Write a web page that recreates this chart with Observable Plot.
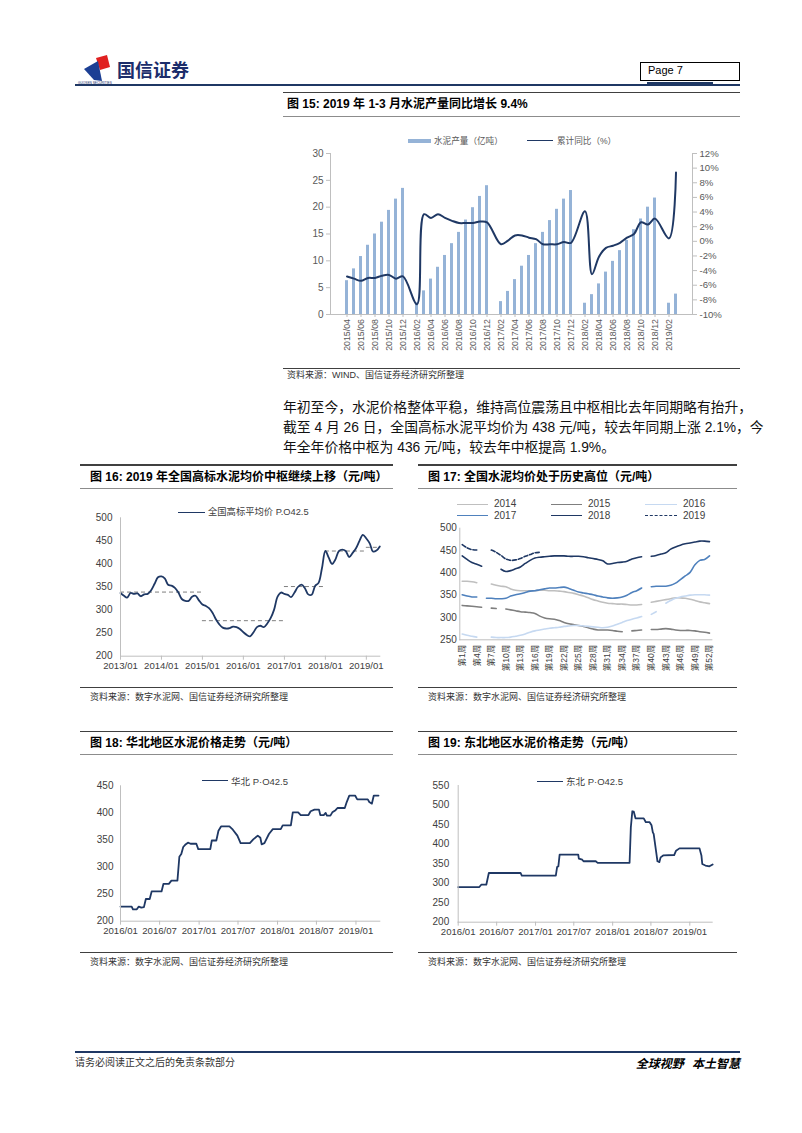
<!DOCTYPE html>
<html><head><meta charset="utf-8">
<script src="https://cdn.jsdelivr.net/npm/d3@7"></script>
<script src="https://cdn.jsdelivr.net/npm/@observablehq/plot@0.6"></script>
<style>
body{margin:0;background:#fff;}
#page{position:relative;width:802px;height:1133px;overflow:hidden;background:#fff;font-family:"Liberation Sans","Noto Sans CJK SC",sans-serif;}
</style></head>
<body><div id="page"></div>
<script>
// ---------------- DATA ----------------
// Figure 15: monthly cement output (cumulative, 亿吨) and cumulative YoY (%)
const months15 = ["2015/04","2015/05","2015/06","2015/07","2015/08","2015/09","2015/10","2015/11","2015/12",
 "2016/01","2016/02","2016/03","2016/04","2016/05","2016/06","2016/07","2016/08","2016/09","2016/10","2016/11","2016/12",
 "2017/01","2017/02","2017/03","2017/04","2017/05","2017/06","2017/07","2017/08","2017/09","2017/10","2017/11","2017/12",
 "2018/01","2018/02","2018/03","2018/04","2018/05","2018/06","2018/07","2018/08","2018/09","2018/10","2018/11","2018/12",
 "2019/01","2019/02","2019/03"];
const output15 = [6.3,8.5,10.8,12.9,15.0,17.2,19.4,21.5,23.5,
 null,2.2,4.4,6.6,8.8,11.0,13.2,15.3,17.6,19.9,22.0,24.0,
 null,2.4,4.3,6.5,9.0,11.0,13.2,15.3,17.5,19.6,21.5,23.1,
 null,2.1,3.7,5.7,7.9,9.9,11.9,13.8,15.8,17.8,20.0,21.7,
 null,2.1,3.8];
const yoy15 = [-4.8,-5.1,-5.4,-5.0,-5.0,-4.7,-4.6,-5.1,-4.8,
 null,-8.6,3.7,3.2,3.7,3.2,2.8,2.5,2.5,2.5,2.7,2.6,
 null,-0.4,0.1,0.8,0.8,0.5,0.3,-0.4,-0.4,-0.4,-0.1,-0.2,
 null,4.1,-4.5,-2.1,-0.9,-0.6,-0.2,0.5,1.0,2.6,2.3,3.1,
 null,0.4,9.4];
const xTicks15 = ["2015/04","2015/06","2015/08","2015/10","2015/12","2016/02","2016/04","2016/06","2016/08","2016/10","2016/12",
 "2017/02","2017/04","2017/06","2017/08","2017/10","2017/12","2018/02","2018/04","2018/06","2018/08","2018/10","2018/12","2019/02"];
const leftTicks15 = [0,5,10,15,20,25,30];
const yoyTicks15 = [-10,-8,-6,-4,-2,0,2,4,6,8,10,12];

// Figure 16: national high-grade average price P.O42.5 (monthly, 2013/01 - 2019/05)
const price16 = [337,331,327,337,335,336,330,334,335,343,357,371,
 373,368,355,353,348,338,324,320,320,329,331,321,
 312,309,304,294,280,269,262,260,261,264,263,259,
 252,246,243,252,263,266,263,271,283,301,329,338,
 335,333,328,338,350,355,348,334,333,352,359,390,
 428,413,400,410,428,431,428,415,424,434,450,463,
 455,444,427,429,438];
const midStart16 = ["2013-01-01","2015-01-01","2017-01-01","2018-01-01","2019-01-01"];
const midEnd16   = ["2015-01-01","2017-01-01","2018-01-01","2019-01-01","2019-05-01"];
const midValue16 = [339,277,351,428,436];
const yearTicks16 = ["2013-01-01","2014-01-01","2015-01-01","2016-01-01","2017-01-01","2018-01-01","2019-01-01"];

// Figure 17: weekly national price by year
const years17 = ["2014","2015","2016","2017","2018","2019"];
const p2014 = [381,381,380,378,null,null,375,372,370,369,364,361,360,360,360,360,361,361,360,360,359,358,356,354,351,348,344,340,337,334,332,331,330,330,329,328,328,329,null,334,336,338,340,342,344,344,343,341,338,335,333,331];
const p2015 = [327,326,325,324,323,null,321,320,null,319,317,315,313,312,311,309,303,299,297,296,293,289,286,284,282,280,277,274,272,272,272,271,269,268,null,270,271,272,null,273,273,274,275,274,272,271,271,271,270,268,267,265];
const p2016 = [263,260,258,256,null,null,256,255,255,255,256,258,260,263,267,270,272,274,276,277,278,280,281,282,282,281,280,279,278,277,278,281,285,289,293,296,299,302,null,307,313,null,332,338,343,346,348,350,351,351,351,350];
const p2017 = [351,348,346,346,null,343,343,342,342,343,348,351,353,356,359,360,362,364,366,366,367,368,365,361,357,355,353,351,348,346,344,343,344,346,350,356,360,366,null,369,370,370,370,372,377,385,393,401,418,428,430,438];
const p2018 = [438,430,423,419,415,null,null,null,408,403,405,409,413,421,428,433,435,436,437,438,438,438,437,437,437,436,434,432,430,427,420,421,423,424,426,431,434,436,null,437,439,442,445,453,458,462,465,467,469,471,471,470];
const p2019 = [463,456,452,451,null,null,451,446,439,431,428,429,432,437,441,445,446,null,null,null,null,null,null,null,null,null,null,null,null,null,null,null,null,null,null,null,null,null,null,null,null,null,null,null,null,null,null,null,null,null,null,null];
const weekTicks17 = [1,4,7,10,13,16,19,22,25,28,31,34,37,40,43,46,49,52];
const yTicks17 = [250,300,350,400,450,500];

// Figure 18: 华北 P·O42.5
const dates18 = ["2016-01-01","2016-02-22","2016-02-28","2016-03-17","2016-03-26","2016-04-07","2016-04-19","2016-04-28","2016-05-16","2016-05-25",
 "2016-07-10","2016-07-19","2016-08-13","2016-08-25","2016-09-22","2016-10-01","2016-10-10","2016-10-19","2016-10-28","2016-11-10",
 "2016-11-22","2016-12-19","2016-12-28","2017-02-22","2017-03-01","2017-03-22","2017-04-01","2017-04-13","2017-05-22","2017-06-07",
 "2017-06-28","2017-07-13","2017-08-25","2017-09-10","2017-10-01","2017-10-13","2017-10-19","2017-11-01","2017-11-22","2017-12-10",
 "2018-01-16","2018-01-25","2018-03-04","2018-03-13","2018-04-07","2018-04-19","2018-05-25","2018-06-04","2018-06-22","2018-07-13",
 "2018-07-19","2018-08-04","2018-08-13","2018-08-19","2018-09-04","2018-09-13","2018-09-28","2018-10-07","2018-11-10","2018-11-19",
 "2018-12-01","2018-12-28","2019-01-07","2019-02-25","2019-03-04","2019-03-16","2019-03-25","2019-04-16"];
const price18 = [227,227,222,222,227,225,226,241,241,255,
 255,269,269,275,275,319,324,337,341,345,
 343,343,333,333,349,349,367,375,375,369,
 358,344,344,351,358,354,342,344,361,370,
 370,377,377,401,401,396,396,403,406,406,
 396,396,400,395,395,401,405,409,409,420,
 432,432,425,425,420,417,432,432];
const halfYearTicks = ["2016-01-01","2016-07-01","2017-01-01","2017-07-01","2018-01-01","2018-07-01","2019-01-01"];

// Figure 19: 东北 P·O42.5
const dates19 = ["2016-01-01","2016-04-10","2016-04-19","2016-05-13","2016-05-25","2016-10-22","2016-10-28","2017-04-07","2017-04-13","2017-04-19",
 "2017-04-25","2017-07-22","2017-07-25","2017-08-10","2017-08-16","2017-10-13","2017-10-22","2018-03-22","2018-03-28","2018-04-04",
 "2018-04-11","2018-04-19","2018-05-28","2018-06-07","2018-06-25","2018-07-04","2018-07-10","2018-07-14","2018-07-25","2018-08-01",
 "2018-08-10","2018-08-16","2018-08-28","2018-10-19","2018-10-28","2018-11-13","2019-02-16","2019-02-25","2019-03-01","2019-03-16",
 "2019-04-04","2019-04-19"];
const price19 = [290,290,296,296,326,326,319,319,341,343,
 373,373,363,360,356,356,352,352,443,484,
 483,466,466,456,456,448,430,426,383,356,
 354,366,371,372,383,389,389,371,349,345,
 343,348];

// ---------------- HELPERS ----------------
const FONT = '"Liberation Sans","Noto Sans CJK SC",sans-serif';
const page = document.getElementById("page");
function el(tag, style, txt) {
  const e = document.createElement(tag);
  Object.assign(e.style, {position: "absolute"}, style);
  if (txt != null) e.textContent = txt;
  page.appendChild(e);
  return e;
}
function hline(x1, x2, y, w, color) {
  el("div", {left: x1 + "px", top: (y - w / 2) + "px", width: (x2 - x1) + "px", height: w + "px", background: color});
}
function label(x, yc, s, size, extra = {}) {
  return el("div", Object.assign({left: x + "px", top: (yc - size * 0.6) + "px", fontSize: size + "px",
    lineHeight: (size * 1.2) + "px", whiteSpace: "nowrap", color: "#000", fontFamily: FONT}, extra), s);
}
function place(node, left, top) {
  node.style.position = "absolute";
  node.style.left = left + "px";
  node.style.top = top + "px";
  page.appendChild(node);
}
function legendLine(x1, x2, y, color, w, dash) {
  el("div", {left: x1 + "px", top: (y - w / 2) + "px", width: (x2 - x1) + "px", height: "0px",
    borderTop: w + "px " + (dash ? "dashed" : "solid") + " " + color});
}
const AX = "#bfbfbf", TXT = "#404040";
const baseStyle = {background: "none", fontFamily: FONT, overflow: "visible", color: TXT};

// ---------------- HEADER ----------------
const logo = document.createElementNS("http://www.w3.org/2000/svg", "svg");
logo.setAttribute("width", "34"); logo.setAttribute("height", "28");
logo.innerHTML = '<polygon points="13,3 24,0 27,12 17,15" fill="#e02020"/><polygon points="1,14 15,6 19,26 11,25" fill="#1c3f94"/>';
place(logo, 83, 55);
label(117, 70, "国信证券", 18, {fontWeight: "bold", color: "#1c2d6b", fontFamily: '"Noto Sans CJK SC"', letterSpacing: "0px"});
label(78, 83.5, "GUOSEN SECURITIES", 3.2, {color: "#1c2d6b"});
el("div", {left: "640px", top: "62px", width: "98px", height: "17px", border: "1px solid #000"});
label(648, 71, "Page   7", 11, {color: "#000"});
hline(75, 740, 85, 1.5, "#1f3864");
hline(647, 713, 83.5, 2.5, "#1f3864");

// ---------------- FIGURE 15 ----------------
hline(283, 740, 92.5, 1.5, "#404040");
label(287, 104, "图 15: 2019 年 1-3 月水泥产量同比增长 9.4%", 12, {fontWeight: "bold"});
hline(283, 740, 116, 1, "#8c8c8c");
el("div", {left: "408px", top: "139px", width: "23px", height: "4px", background: "#95b3d7"});
label(434, 141, "水泥产量（亿吨）", 8.6, {color: "#595959"});
legendLine(527, 553, 141, "#1f3864", 1.6, false);
label(557, 141, "累计同比（%）", 8.6, {color: "#595959"});

const yoyDom = [yoyTicks15[0], yoyTicks15[yoyTicks15.length - 1]];
const leftDom = [leftTicks15[0], leftTicks15[leftTicks15.length - 1]];
const toLeft = p => leftDom[0] + (p - yoyDom[0]) * (leftDom[1] - leftDom[0]) / (yoyDom[1] - yoyDom[0]);
const fromLeft = v => yoyDom[0] + (v - leftDom[0]) * (yoyDom[1] - yoyDom[0]) / (leftDom[1] - leftDom[0]);
const rows15 = months15.map((m, i) => ({month: m, output: output15[i], yoy: yoy15[i]}));
const p15 = Plot.plot({
  width: 460, height: 235, marginLeft: 50, marginRight: 48, marginTop: 23, marginBottom: 51,
  style: baseStyle,
  x: {type: "band", domain: months15, paddingInner: 0.55, paddingOuter: 0.275},
  y: {domain: leftDom},
  marks: [
    Plot.barY(rows15.filter(d => d.output != null), {x: "month", y: "output", fill: "#95b3d7"}),
    Plot.line(rows15.filter(d => d.yoy != null), {x: "month", y: d => toLeft(d.yoy), stroke: "#1f3864", strokeWidth: 2, curve: "catmull-rom"}),
    Plot.frame({anchor: "left", stroke: AX}),
    Plot.frame({anchor: "right", stroke: AX}),
    Plot.frame({anchor: "bottom", stroke: AX}),
    Plot.axisY({anchor: "left", ticks: leftTicks15, tickSize: 4, tickPadding: 3, stroke: AX, fill: "#595959", fontSize: 10, label: null}),
    Plot.axisY({anchor: "right", ticks: yoyTicks15.map(toLeft), tickSize: 4, tickPadding: 3, stroke: AX, fill: "#595959", fontSize: 9.6, label: null,
      tickFormat: v => Math.round(fromLeft(v)) + "%"}),
    Plot.axisX({anchor: "bottom", ticks: xTicks15, tickRotate: -90, tickSize: 3, tickPadding: 1.5, stroke: AX, fill: "#595959", fontSize: 8.8, label: null})
  ]
});
place(p15, 280, 130);
hline(283, 740, 368, 1, "#404040");
label(287, 375, "资料来源：WIND、国信证券经济研究所整理", 9, {color: "#333"});

// ---------------- PARAGRAPH ----------------
const paraStyle = {width: "457px", textAlign: "justify", textAlignLast: "justify", color: "#111", fontFamily: FONT};
label(283, 408.5, "年初至今，水泥价格整体平稳，维持高位震荡且中枢相比去年同期略有抬升，", 13.8, paraStyle);
label(283, 428.5, "截至 4 月 26 日，全国高标水泥平均价为 438 元/吨，较去年同期上涨 2.1%，今", 13.8, paraStyle);
label(283, 448.5, "年全年价格中枢为 436 元/吨，较去年中枢提高 1.9%。", 13.8, {color: "#111"});

// ---------------- FIGURE 16 ----------------
hline(80, 393, 465, 1.5, "#404040");
label(90, 477, "图 16: 2019 年全国高标水泥均价中枢继续上移（元/吨）", 12, {fontWeight: "bold"});
hline(80, 393, 488.5, 1, "#8c8c8c");
legendLine(178, 205, 512.7, "#1f3864", 1.8, false);
label(208, 512.7, "全国高标平均价 P.O42.5", 9.3, {color: "#404040"});
const dates16 = d3.utcMonth.range(new Date(Date.UTC(2013, 0, 1)), new Date(Date.UTC(2019, 5, 1)));
const rows16 = price16.map((v, i) => ({date: dates16[i], v}));
const mids16 = midValue16.map((v, i) => ({x1: new Date(midStart16[i]), x2: new Date(midEnd16[i]), v}));
const p16 = Plot.plot({
  width: 313, height: 185, marginLeft: 40, marginRight: 13.7, marginTop: 17.3, marginBottom: 29.3,
  style: baseStyle,
  x: {type: "utc", domain: [new Date("2013-01-01"), new Date("2019-05-01")]},
  y: {domain: [200, 500]},
  marks: [
    Plot.ruleY(mids16, {x1: "x1", x2: "x2", y: "v", stroke: "#7f7f7f", strokeWidth: 1, strokeDasharray: "4,3"}),
    Plot.line(rows16, {x: "date", y: "v", stroke: "#1f3864", strokeWidth: 1.8, curve: "catmull-rom"}),
    Plot.frame({anchor: "left", stroke: AX}),
    Plot.frame({anchor: "bottom", stroke: AX}),
    Plot.axisY({anchor: "left", ticks: [200, 250, 300, 350, 400, 450, 500], tickSize: 0, tickPadding: 8, fill: TXT, fontSize: 10, label: null}),
    Plot.axisX({anchor: "bottom", ticks: yearTicks16.map(d => new Date(d)), tickFormat: d3.utcFormat("%Y/%m"), tickSize: 4, tickPadding: 2, stroke: AX, fill: TXT, fontSize: 9.6, label: null})
  ]
});
place(p16, 80, 500);
hline(80, 393, 687, 1, "#404040");
label(90, 697, "资料来源：数字水泥网、国信证券经济研究所整理", 9, {color: "#333"});

// ---------------- FIGURE 17 ----------------
hline(418, 737, 465, 1.5, "#404040");
label(428, 477, "图 17: 全国水泥均价处于历史高位（元/吨）", 12, {fontWeight: "bold"});
hline(418, 737, 488.5, 1, "#8c8c8c");
const colors17 = ["#bfbfbf", "#7f7f7f", "#c6d9f1", "#4f81bd", "#1f3864", "#1f3864"];
const series17 = [p2014, p2015, p2016, p2017, p2018, p2019];
const legendX17 = [[457, 488, 494], [551, 582, 588], [645, 677, 683]];
years17.forEach((yr, i) => {
  const col = i % 3, row = Math.floor(i / 3);
  const y = 504.3 + row * 11.7;
  legendLine(legendX17[col][0], legendX17[col][1], y, colors17[i], 1.6, yr === "2019");
  label(legendX17[col][2], y, yr, 10, {color: "#404040"});
});
const rows17 = [];
series17.forEach((arr, i) => arr.forEach((v, w) => rows17.push({year: years17[i], week: w + 1, v})));
const p17 = Plot.plot({
  width: 332, height: 160, marginLeft: 46.3, marginRight: 33.6, marginTop: 7.7, marginBottom: 40.7,
  style: baseStyle,
  x: {domain: [0.5, 52.5]},
  y: {domain: [250, 500]},
  marks: [
    ...years17.map((yr, i) => Plot.line(rows17.filter(d => d.year === yr), {x: "week", y: "v", stroke: colors17[i],
      strokeWidth: 1.6, curve: "catmull-rom", strokeDasharray: yr === "2019" ? "4,2" : null})),
    Plot.frame({anchor: "left", stroke: AX}),
    Plot.frame({anchor: "bottom", stroke: AX}),
    Plot.axisY({anchor: "left", ticks: yTicks17, tickSize: 0, tickPadding: 3, fill: TXT, fontSize: 10, label: null}),
    Plot.axisX({anchor: "bottom", ticks: weekTicks17, tickFormat: d => "第" + d + "周", tickRotate: -90, tickSize: 0, tickPadding: 5, fill: TXT, fontSize: 8.5, label: null})
  ]
});
place(p17, 413, 520);
hline(418, 737, 687, 1, "#404040");
label(428, 697, "资料来源：数字水泥网、国信证券经济研究所整理", 9, {color: "#333"});

// ---------------- FIGURE 18 ----------------
hline(80, 393, 731.5, 1.5, "#404040");
label(90, 743, "图 18: 华北地区水泥价格走势（元/吨）", 12, {fontWeight: "bold"});
hline(80, 393, 754, 1, "#8c8c8c");
legendLine(202, 228, 781.3, "#1f3864", 1.8, false);
label(231, 781.3, "华北 P·O42.5", 9.5, {color: "#404040"});
const rows18 = dates18.map((d, i) => ({date: new Date(d), v: price18[i]}));
const p18 = Plot.plot({
  width: 315, height: 175, marginLeft: 40, marginRight: 15.7, marginTop: 15.3, marginBottom: 24.3,
  style: baseStyle,
  x: {type: "utc", domain: [new Date("2016-01-01"), new Date("2019-04-22")]},
  y: {domain: [200, 450]},
  marks: [
    Plot.line(rows18, {x: "date", y: "v", stroke: "#1f3864", strokeWidth: 1.8}),
    Plot.frame({anchor: "left", stroke: AX}),
    Plot.frame({anchor: "bottom", stroke: AX}),
    Plot.axisY({anchor: "left", ticks: [200, 250, 300, 350, 400, 450], tickSize: 0, tickPadding: 7, fill: TXT, fontSize: 10, label: null}),
    Plot.axisX({anchor: "bottom", ticks: halfYearTicks.map(d => new Date(d)), tickFormat: d3.utcFormat("%Y/%m"), tickSize: 4, tickPadding: 2, stroke: AX, fill: TXT, fontSize: 9.6, label: null})
  ]
});
place(p18, 80, 770);
hline(80, 393, 952, 1, "#404040");
label(90, 962, "资料来源：数字水泥网、国信证券经济研究所整理", 9, {color: "#333"});

// ---------------- FIGURE 19 ----------------
hline(418, 737, 731.5, 1.5, "#404040");
label(428, 743, "图 19: 东北地区水泥价格走势（元/吨）", 12, {fontWeight: "bold"});
hline(418, 737, 754, 1, "#8c8c8c");
legendLine(537, 563, 781.7, "#1f3864", 1.8, false);
label(566, 781.7, "东北 P·O42.5", 9.5, {color: "#404040"});
const rows19 = dates19.map((d, i) => ({date: new Date(d), v: price19[i]}));
const p19 = Plot.plot({
  width: 332, height: 175, marginLeft: 44.7, marginRight: 33.3, marginTop: 15, marginBottom: 23.3,
  style: baseStyle,
  x: {type: "utc", domain: [new Date("2016-01-01"), new Date("2019-04-17")]},
  y: {domain: [200, 550]},
  marks: [
    Plot.line(rows19, {x: "date", y: "v", stroke: "#1f3864", strokeWidth: 1.8}),
    Plot.frame({anchor: "left", stroke: AX}),
    Plot.frame({anchor: "bottom", stroke: AX}),
    Plot.axisY({anchor: "left", ticks: [200, 250, 300, 350, 400, 450, 500, 550], tickSize: 0, tickPadding: 9, fill: TXT, fontSize: 10, label: null}),
    Plot.axisX({anchor: "bottom", ticks: halfYearTicks.map(d => new Date(d)), tickFormat: d3.utcFormat("%Y/%m"), tickSize: 4, tickPadding: 2, stroke: AX, fill: TXT, fontSize: 9.6, label: null})
  ]
});
place(p19, 413, 770);
hline(418, 737, 952, 1, "#404040");
label(428, 962, "资料来源：数字水泥网、国信证券经济研究所整理", 9, {color: "#333"});

// ---------------- FOOTER ----------------
hline(75, 740, 1052, 1.5, "#1f3864");
label(75, 1063, "请务必阅读正文之后的免责条款部分", 10, {color: "#333"});
el("div", {right: "62px", top: "1055px", fontSize: "12px", lineHeight: "15px", fontWeight: "bold", fontStyle: "italic",
  fontFamily: '"Noto Sans CJK SC"', whiteSpace: "pre", color: "#000"}, "全球视野   本土智慧");
</script>
</body></html>
